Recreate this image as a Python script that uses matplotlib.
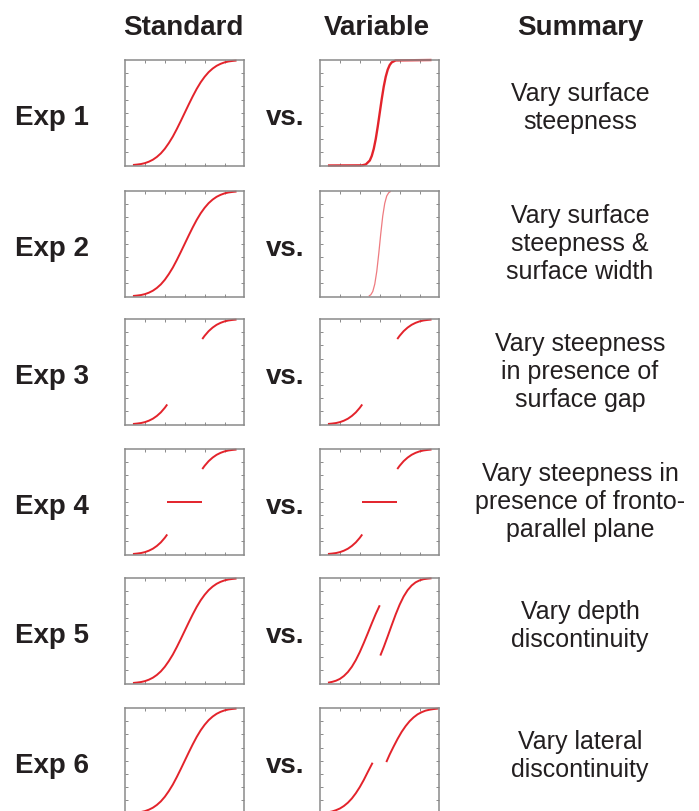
import matplotlib
matplotlib.use("Agg")
import matplotlib.pyplot as plt

plt.rcParams["font.family"] = ["Liberation Sans", "DejaVu Sans"]

OUT_PATH = "out.png"

# ---- data (axes are 0..6 by 0..8) ----
row_labels = ["Exp 1", "Exp 2", "Exp 3", "Exp 4", "Exp 5", "Exp 6"]
summaries = [
    "Vary surface\nsteepness",
    "Vary surface\nsteepness &\nsurface width",
    "Vary steepness\nin presence of\nsurface gap",
    "Vary steepness in\npresence of fronto-\nparallel plane",
    "Vary depth\ndiscontinuity",
    "Vary lateral\ndiscontinuity",
]
headers = ["Standard", "Variable", "Summary"]

# standard surface profile
std_x = [0.4, 0.6, 0.8, 1.0, 1.2, 1.4, 1.6, 1.8, 2.0, 2.2, 2.4, 2.6, 2.8, 3.0,
         3.2, 3.4, 3.6, 3.8, 4.0, 4.2, 4.4, 4.6, 4.8, 5.0, 5.2, 5.4, 5.6]
std_y = [0.04, 0.07, 0.11, 0.18, 0.29, 0.44, 0.65, 0.92, 1.27, 1.70, 2.19, 2.76, 3.37, 4.0,
         4.63, 5.24, 5.81, 6.31, 6.73, 7.08, 7.35, 7.56, 7.71, 7.82, 7.89, 7.93, 7.96]

# exp 1 variable: steep surface with flat ends
steep_x = [0.4, 2.1, 2.3, 2.5, 2.6, 2.7, 2.8, 2.9, 3.0, 3.1, 3.2, 3.3, 3.4, 3.5, 3.6, 3.8, 5.6]
steep_y = [0.0, 0.01, 0.08, 0.38, 0.73, 1.27, 2.02, 2.96, 4.0, 5.04, 5.98, 6.73, 7.27, 7.62, 7.82, 7.97, 8.0]

# exp 2 variable: steep and narrow surface
narrow_x = [2.45, 2.55, 2.65, 2.75, 2.85, 2.95, 3.05, 3.15, 3.25, 3.35, 3.45, 3.55]
narrow_y = [0.03, 0.13, 0.38, 0.94, 1.90, 3.25, 4.75, 6.10, 7.06, 7.62, 7.87, 7.97]

# exp 3/4: surface with a gap
gap_lo_x = [0.4, 0.6, 0.8, 1.0, 1.2, 1.4, 1.6, 1.8, 2.0, 2.12]
gap_lo_y = [0.04, 0.07, 0.11, 0.18, 0.29, 0.44, 0.65, 0.92, 1.27, 1.52]
gap_hi_x = [3.88, 4.0, 4.2, 4.4, 4.6, 4.8, 5.0, 5.2, 5.4, 5.6]
gap_hi_y = [6.48, 6.73, 7.08, 7.35, 7.56, 7.71, 7.82, 7.89, 7.93, 7.96]

# exp 4: fronto-parallel plane
plane_x = [2.13, 3.87]
plane_y = [4.0, 4.0]

# exp 5 variable: depth discontinuity
depth_lo_x = [0.4, 0.6, 0.8, 1.0, 1.2, 1.4, 1.6, 1.8, 2.0, 2.2, 2.4, 2.6, 2.8, 3.0]
depth_lo_y = [0.06, 0.12, 0.21, 0.35, 0.57, 0.87, 1.27, 1.78, 2.39, 3.08, 3.81, 4.56, 5.28, 5.93]
depth_hi_x = [3.03, 3.2, 3.4, 3.6, 3.8, 4.0, 4.2, 4.4, 4.6, 4.8, 5.0, 5.2, 5.4, 5.6]
depth_hi_y = [2.12, 2.76, 3.58, 4.42, 5.24, 5.98, 6.60, 7.08, 7.43, 7.67, 7.82, 7.91, 7.95, 7.98]

# exp 6 variable: lateral discontinuity
lat_lo_x = [0.4, 0.6, 0.8, 1.0, 1.2, 1.4, 1.6, 1.8, 2.0, 2.2, 2.4, 2.64]
lat_lo_y = [0.09, 0.15, 0.25, 0.38, 0.57, 0.82, 1.14, 1.54, 2.01, 2.55, 3.15, 3.85]
lat_hi_x = [3.33, 3.5, 3.7, 3.9, 4.1, 4.3, 4.5, 4.7, 4.9, 5.1, 5.3, 5.5, 5.7, 5.95]
lat_hi_y = [3.9, 4.48, 5.09, 5.67, 6.19, 6.63, 7.00, 7.29, 7.52, 7.68, 7.80, 7.87, 7.92, 7.96]

RED = "#e3232b"
PINK = "#ee7b80"

full = [(std_x, std_y, RED, 1.4)]
gap = [(gap_lo_x, gap_lo_y, RED, 1.4), (gap_hi_x, gap_hi_y, RED, 1.4)]
gap_plane = gap + [(plane_x, plane_y, RED, 1.4)]

panels = [
    (full, [(steep_x, steep_y, RED, 1.7)]),
    (full, [(narrow_x, narrow_y, PINK, 0.9)]),
    (gap, gap),
    (gap_plane, gap_plane),
    (full, [(depth_lo_x, depth_lo_y, RED, 1.4), (depth_hi_x, depth_hi_y, RED, 1.4)]),
    (full, [(lat_lo_x, lat_lo_y, RED, 1.4), (lat_hi_x, lat_hi_y, RED, 1.4)]),
]

# ---- layout in pixels ----
W, H = 699, 812
row_tops = [61, 192, 320, 450, 579, 709]
box_h = 105.5
left_x, right_x, box_w = 125, 320, 119.5
TEXT = "#231f20"
EDGE = "#8a8a8a"


def style_axes(ax):
    ax.set_xlim(0, 6)
    ax.set_ylim(0, 8)
    ax.set_xticks([1, 2, 3, 4, 5])
    ax.set_yticks([1, 2, 3, 4, 5, 6, 7])
    ax.tick_params(direction="in", length=2.5, width=0.7, colors=EDGE,
                   top=True, right=True, labelbottom=False, labelleft=False)
    for s in ax.spines.values():
        s.set_color(EDGE)
        s.set_linewidth(1.1)


def main():
    fig = plt.figure(figsize=(W / 100, H / 100), dpi=100)

    for i, (std_segs, var_segs) in enumerate(panels):
        top = row_tops[i]
        y0 = 1 - (top + box_h) / H
        for x0, segs in ((left_x, std_segs), (right_x, var_segs)):
            ax = fig.add_axes([x0 / W, y0, box_w / W, box_h / H])
            style_axes(ax)
            for xs, ys, c, lw in segs:
                ax.plot(xs, ys, color=c, lw=lw, solid_capstyle="butt",
                        solid_joinstyle="round", clip_on=False)

        cy = top + box_h / 2
        fig.text(15 / W, 1 - (cy + 11) / H, row_labels[i], fontsize=20,
                 fontweight="bold", color=TEXT, ha="left", va="baseline")
        fig.text(285 / W, 1 - (cy + 11) / H, "vs.", fontsize=20,
                 fontweight="bold", color=TEXT, ha="center", va="baseline")
        n_lines = summaries[i].count("\n") + 1
        off = -6 if n_lines == 2 else -1
        fig.text(580 / W, 1 - (cy + off) / H, summaries[i], fontsize=18,
                 color=TEXT, ha="center", va="center", multialignment="center",
                 linespacing=1.2)

    for name, cx in zip(headers, [183, 377, 580]):
        fig.text(cx / W, 1 - 35 / H, name, fontsize=20, fontweight="bold",
                 color=TEXT, ha="center", va="baseline")

    fig.savefig(OUT_PATH, dpi=100)
    plt.close(fig)


if __name__ == "__main__":
    main()
